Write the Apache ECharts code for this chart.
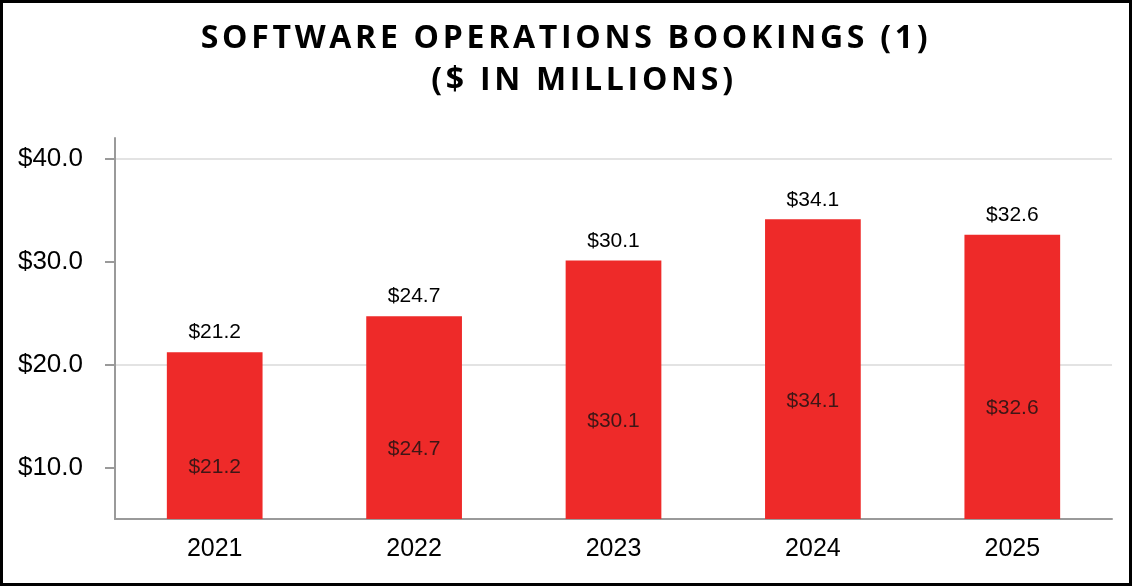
<!DOCTYPE html>
<html>
<head>
<meta charset="utf-8">
<script src="https://cdn.jsdelivr.net/npm/echarts@6/dist/echarts.min.js"></script>
<style>
  html, body { margin: 0; padding: 0; background: #fff; }
  #wrap { position: relative; width: 1132px; height: 586px; overflow: hidden; }
  #chart { position: absolute; left: 0; top: 0; width: 1132px; height: 586px; }
  #frame { position: absolute; left: 0; top: 0; width: 1132px; height: 586px; box-sizing: border-box; border: 3px solid #000; pointer-events: none; }
  .title { position: absolute; left: 0; width: 1132px; text-align: center; font-family: "Open Sans", "Lato", sans-serif; font-weight: 700; color: #000; font-size: 32px; letter-spacing: 3.7px; line-height: 1; }
  #t1 { top: 20px; }
  #t2 { top: 62px; left: 18px; }
</style>
</head>
<body>
<div id="wrap">
  <div id="chart"></div>
  <div id="t1" class="title">SOFTWARE OPERATIONS BOOKINGS (1)</div>
  <div id="t2" class="title">($ IN MILLIONS)</div>
  <div id="frame"></div>
</div>
<script>
const categories = ['2021', '2022', '2023', '2024', '2025'];
const bookings = [21.2, 24.7, 30.1, 34.1, 32.6];
const yTickValues = [10, 20, 30, 40];

const fmt = v => '$' + Number(v).toFixed(1);
const chart = echarts.init(document.getElementById('chart'), null, { renderer: 'canvas' });
chart.setOption({
  animation: false,
  backgroundColor: '#fff',
  grid: { left: 115, right: 20, top: 138, bottom: 67, containLabel: false },
  xAxis: {
    type: 'category',
    data: categories,
    axisLine: { lineStyle: { color: '#9a9a9a', width: 2 } },
    axisTick: { alignWithLabel: true, length: 10, lineStyle: { color: '#9a9a9a', width: 2 } },
    axisLabel: { color: '#000', fontSize: 25, fontFamily: 'Liberation Sans, Arial, sans-serif', margin: 18 }
  },
  yAxis: {
    type: 'value',
    min: 5,
    max: 42,
    interval: 5,
    axisLine: { show: true, lineStyle: { color: '#9a9a9a', width: 2 } },
    axisTick: { show: true, length: 10, customValues: yTickValues, lineStyle: { color: '#9a9a9a', width: 2 } },
    axisLabel: { customValues: yTickValues, formatter: fmt, color: '#000', fontSize: 26, fontFamily: 'Liberation Sans, Arial, sans-serif', margin: 32 },
    splitLine: { show: true, lineStyle: { color: ['rgba(0,0,0,0)', '#e3e3e3'], width: 2 } }
  },
  series: [
    {
      type: 'bar',
      data: bookings,
      barWidth: '48%',
      itemStyle: { color: '#EE2A29' },
      label: { show: true, position: 'top', distance: 9, formatter: p => fmt(p.value), color: '#000', fontSize: 21, fontFamily: 'Liberation Sans, Arial, sans-serif' }
    },
    {
      type: 'scatter',
      data: bookings.map(v => ({ value: v / 2, raw: v })),
      symbolSize: 0,
      silent: true,
      z: 5,
      label: { show: true, position: 'inside', offset: [0, 6], formatter: p => fmt(p.data.raw), color: '#111', fontSize: 21, fontFamily: 'Liberation Sans, Arial, sans-serif' }
    }
  ]
});
</script>
</body>
</html>
